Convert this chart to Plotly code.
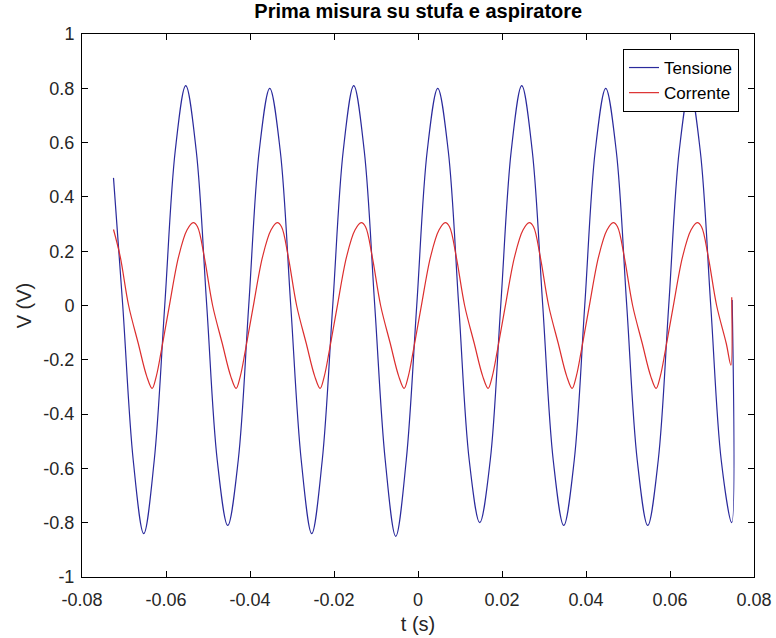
import plotly.graph_objects as go

# ---- data ----
t_tensione = [-0.0725, -0.0703, -0.0678, -0.0653, -0.0628, -0.0603, -0.0578, -0.0553,
              -0.0528, -0.0503, -0.0478, -0.0453, -0.0428, -0.0403, -0.0378, -0.0353,
              -0.0328, -0.0303, -0.0278, -0.0253, -0.0228, -0.0203, -0.0178, -0.0153,
              -0.0128, -0.0103, -0.0078, -0.0053, -0.0028, -0.0003, 0.0022, 0.0047,
              0.0072, 0.0097, 0.0122, 0.0147, 0.0172, 0.0197, 0.0222, 0.0247,
              0.0272, 0.0297, 0.0322, 0.0347, 0.0372, 0.0397, 0.0422, 0.0447,
              0.0472, 0.0497, 0.0522, 0.0547, 0.0572, 0.0597, 0.0622, 0.0647,
              0.0672, 0.0697, 0.0722, 0.0747, 0.0748]
v_tensione = [0.47, 0.00, -0.57, -0.84, -0.57, 0.00, 0.57, 0.81,
              0.57, 0.00, -0.57, -0.81, -0.57, 0.00, 0.57, 0.80,
              0.57, 0.00, -0.57, -0.84, -0.57, 0.00, 0.57, 0.81,
              0.57, 0.00, -0.57, -0.85, -0.57, 0.00, 0.57, 0.80,
              0.57, 0.00, -0.57, -0.80, -0.57, 0.00, 0.57, 0.81,
              0.57, 0.00, -0.57, -0.81, -0.57, 0.00, 0.57, 0.80,
              0.57, 0.00, -0.57, -0.81, -0.57, 0.00, 0.57, 0.80,
              0.57, 0.00, -0.57, -0.80, 0.02]

t_corrente = [-0.0725, -0.0709, -0.0689, -0.0666, -0.0646,
              -0.0633, -0.0623, -0.0611, -0.0593, -0.0570, -0.0550, -0.0535, -0.0525, -0.0509, -0.0489, -0.0466, -0.0446,
              -0.0433, -0.0423, -0.0411, -0.0393, -0.0370, -0.0350, -0.0335, -0.0325, -0.0309, -0.0289, -0.0266, -0.0246,
              -0.0233, -0.0223, -0.0211, -0.0193, -0.0170, -0.0150, -0.0135, -0.0125, -0.0109, -0.0089, -0.0066, -0.0046,
              -0.0033, -0.0023, -0.0011, 0.0007, 0.0030, 0.0050, 0.0065, 0.0075, 0.0091, 0.0111, 0.0134, 0.0154,
              0.0167, 0.0177, 0.0189, 0.0207, 0.0230, 0.0250, 0.0265, 0.0275, 0.0291, 0.0311, 0.0334, 0.0354,
              0.0367, 0.0377, 0.0389, 0.0407, 0.0430, 0.0450, 0.0465, 0.0475, 0.0491, 0.0511, 0.0534, 0.0554,
              0.0567, 0.0577, 0.0589, 0.0607, 0.0630, 0.0650, 0.0665, 0.0675, 0.0691, 0.0711, 0.0734, 0.0745, 0.0747]
v_corrente = [0.28, 0.18, 0.00, -0.14, -0.26,
              -0.305, -0.26, -0.165, -0.01, 0.18, 0.278, 0.305, 0.29, 0.18, 0.00, -0.14, -0.26,
              -0.305, -0.26, -0.165, -0.01, 0.18, 0.278, 0.305, 0.29, 0.18, 0.00, -0.14, -0.26,
              -0.305, -0.26, -0.165, -0.01, 0.18, 0.278, 0.305, 0.29, 0.18, 0.00, -0.14, -0.26,
              -0.305, -0.26, -0.165, -0.01, 0.18, 0.278, 0.305, 0.29, 0.18, 0.00, -0.14, -0.26,
              -0.305, -0.26, -0.165, -0.01, 0.18, 0.278, 0.305, 0.29, 0.18, 0.00, -0.14, -0.26,
              -0.305, -0.26, -0.165, -0.01, 0.18, 0.278, 0.305, 0.29, 0.18, 0.00, -0.14, -0.26,
              -0.305, -0.26, -0.165, -0.01, 0.18, 0.278, 0.305, 0.29, 0.18, 0.00, -0.14, -0.22, 0.03]

x_tickvals = [-0.08, -0.06, -0.04, -0.02, 0, 0.02, 0.04, 0.06, 0.08]
x_ticktext = ["-0.08", "-0.06", "-0.04", "-0.02", "0", "0.02", "0.04", "0.06", "0.08"]
y_tickvals = [-1, -0.8, -0.6, -0.4, -0.2, 0, 0.2, 0.4, 0.6, 0.8, 1]
y_ticktext = ["-1", "-0.8", "-0.6", "-0.4", "-0.2", "0", "0.2", "0.4", "0.6", "0.8", "1"]

FONT = "Liberation Sans, Arial, Helvetica, sans-serif"

fig = go.Figure()
fig.add_trace(go.Scatter(x=t_tensione, y=v_tensione, mode="lines", name="Tensione",
                         line=dict(color="#2a2a9c", width=1.2, shape="spline")))
fig.add_trace(go.Scatter(x=t_corrente, y=v_corrente, mode="lines", name="Corrente",
                         line=dict(color="#dc2e2e", width=1.2, shape="spline")))

axis_common = dict(showgrid=False, zeroline=False, showline=True, linecolor="black",
                   linewidth=1, mirror="ticks", ticks="inside", ticklen=6, automargin=False,
                   tickcolor="black", tickfont=dict(family=FONT, size=18, color="#262626"))

fig.update_layout(
    width=776, height=638, autosize=False,
    margin=dict(l=82, r=22, t=34, b=61),
    paper_bgcolor="white", plot_bgcolor="white",
    font=dict(family=FONT, color="#262626"),
    title=dict(text="<b>Prima misura su stufa e aspiratore</b>", x=0.539, xanchor="center",
               y=0.982, yanchor="middle", font=dict(family=FONT, size=20, color="black")),
    xaxis=dict(range=[-0.08, 0.08], tickvals=x_tickvals, ticktext=x_ticktext,
               ticklabelstandoff=6,
               title=dict(text="t (s)", font=dict(family=FONT, size=20, color="#262626"), standoff=8),
               **axis_common),
    yaxis=dict(range=[-1, 1], tickvals=y_tickvals, ticktext=y_ticktext,
               ticklabelstandoff=3,
               title=dict(text="V (V)", font=dict(family=FONT, size=20, color="#262626"), standoff=6),
               **axis_common),
    legend=dict(x=0.9777, y=0.9724, xanchor="right", yanchor="top",
                bgcolor="white", bordercolor="black", borderwidth=1,
                font=dict(family=FONT, size=17, color="black"),
                tracegroupgap=0, itemwidth=30),
    showlegend=True,
)

fig.write_html("out.html")
